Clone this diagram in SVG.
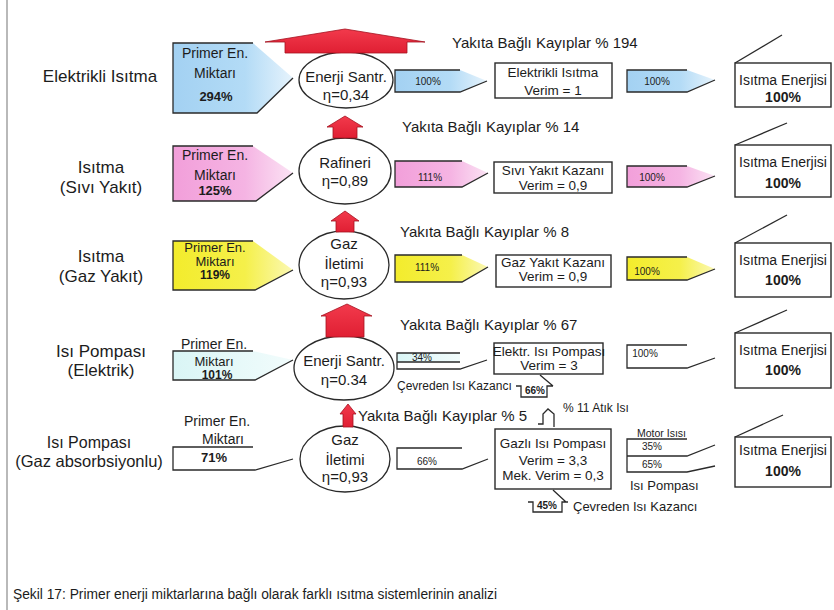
<svg xmlns="http://www.w3.org/2000/svg" width="834" height="610" viewBox="0 0 834 610">
<defs>
<linearGradient id="gBlue" x1="0" y1="0" x2="1" y2="0"><stop offset="0" stop-color="#a3d1f2"/><stop offset="0.6" stop-color="#b3dbf6"/><stop offset="1" stop-color="#e6f3fc"/></linearGradient>
<linearGradient id="gPink" x1="0" y1="0" x2="1" y2="0"><stop offset="0" stop-color="#f29fda"/><stop offset="0.6" stop-color="#f5b4e3"/><stop offset="1" stop-color="#fbe3f4"/></linearGradient>
<linearGradient id="gYel" x1="0" y1="0" x2="1" y2="0"><stop offset="0" stop-color="#f3ec2c"/><stop offset="0.6" stop-color="#f5f04a"/><stop offset="1" stop-color="#fbf8b4"/></linearGradient>
<linearGradient id="gCyan" x1="0" y1="0" x2="1" y2="0"><stop offset="0" stop-color="#d9f5f5"/><stop offset="1" stop-color="#f2fcfc"/></linearGradient>
<linearGradient id="gRed" x1="0" y1="0" x2="0" y2="1"><stop offset="0" stop-color="#f23a4c"/><stop offset="1" stop-color="#e01f33"/></linearGradient>
</defs>
<style>
text{font-family:"Liberation Sans",Arial,sans-serif;fill:#1c1c1c}
.lbl{font-size:17px;text-anchor:middle}
.loss{font-size:15px}
.pr{font-size:14px;text-anchor:middle}
.prb{font-size:13px;font-weight:bold;text-anchor:middle}
.el{font-size:15px;text-anchor:middle}
.bx{font-size:13.5px;text-anchor:middle}
.pc{font-size:10px;text-anchor:middle}
.pcb{font-size:10px;font-weight:bold;text-anchor:middle}
.ie{font-size:14px;text-anchor:middle}
.ieb{font-size:14px;font-weight:bold;text-anchor:middle}
.sm{font-size:12px}
.edge{fill:none;stroke:#2a2a2a;stroke-width:1.3}
.box{fill:#fff;stroke:#2a2a2a;stroke-width:1.4}
.ell{fill:#fff;stroke:#2a2a2a;stroke-width:1.3}
.red{fill:url(#gRed);stroke:#a5121f;stroke-width:0.8}
</style>
<rect width="834" height="610" fill="#fff"/>
<line x1="7" y1="0" x2="7" y2="610" stroke="#8a8a8a" stroke-width="1.2"/>

<!-- row labels -->
<g id="label-r1"><text class="lbl" x="100" y="82">Elektrikli Isıtma</text></g>
<g id="label-r2"><text class="lbl" x="101" y="173">Isıtma</text><text class="lbl" x="101" y="193">(Sıvı Yakıt)</text></g>
<g id="label-r3"><text class="lbl" x="101" y="262">Isıtma</text><text class="lbl" x="101" y="282">(Gaz Yakıt)</text></g>
<g id="label-r4"><text class="lbl" x="101" y="357">Isı Pompası</text><text class="lbl" x="101" y="376">(Elektrik)</text></g>
<g id="label-r5"><text class="lbl" x="89" y="448" style="font-size:16px">Isı Pompası</text><text class="lbl" x="89" y="467" style="font-size:16.5px">(Gaz absorbsiyonlu)</text></g>

<!-- primer energy shapes -->
<g id="primer-r1">
<path d="M173,43 H253 L293,78 L257,113 H173 Z" fill="url(#gBlue)"/>
<path class="edge" d="M253,43 H173 V113 H257 L293,78"/>
<text class="pr" x="215" y="58">Primer En.</text><text class="pr" x="215" y="78">Miktarı</text><text class="prb" x="216" y="101">294%</text>
</g>
<g id="primer-r2">
<path d="M173,146 H253 L293,173 L256,201 H173 Z" fill="url(#gPink)"/>
<path class="edge" d="M253,146 H173 V201 H256 L293,173"/>
<text class="pr" x="215" y="160">Primer En.</text><text class="pr" x="215" y="180">Miktarı</text><text class="prb" x="215" y="195">125%</text>
</g>
<g id="primer-r3">
<path d="M173,241 H253 L293,270 L255,290 H173 Z" fill="url(#gYel)"/>
<path class="edge" d="M253,241 H173 V290 H255 L293,270"/>
<text class="pr" x="215" y="252" style="font-size:13px">Primer En.</text><text class="pr" x="215" y="266" style="font-size:13px">Miktarı</text><text class="prb" x="215" y="279" style="font-size:12px">119%</text>
</g>
<g id="primer-r4">
<path d="M173,351 H253 L293,360 L255,380 H173 Z" fill="url(#gCyan)"/>
<path class="edge" d="M253,351 H173 V380 H255 L293,360"/>
<text class="pr" x="214" y="349">Primer En.</text><text class="pr" x="214" y="366" style="font-size:13px">Miktarı</text><text class="prb" x="217" y="379" style="font-size:12px">101%</text>
</g>
<g id="primer-r5">
<path d="M173,447 H253 L293,459 L255,470 H173 Z" fill="#fff"/>
<path class="edge" d="M253,447 H173 V470 H255 L293,459"/>
<text class="pr" x="217" y="426">Primer En.</text><text class="pr" x="223" y="444">Miktarı</text><text class="prb" x="214" y="462">71%</text>
</g>

<!-- conversion ellipses -->
<g id="plant-r1"><ellipse class="ell" cx="346" cy="80" rx="47" ry="28"/><text class="el" x="346" y="82">Enerji Santr.</text><text class="el" x="346" y="100">η=0,34</text></g>
<g id="plant-r2"><ellipse class="ell" cx="345" cy="171" rx="46" ry="33"/><text class="el" x="345" y="168">Rafineri</text><text class="el" x="345" y="186">η=0,89</text></g>
<g id="plant-r3"><ellipse class="ell" cx="344" cy="265" rx="45" ry="34"/><text class="el" x="344" y="249">Gaz</text><text class="el" x="344" y="269">İletimi</text><text class="el" x="344" y="287">η=0,93</text></g>
<g id="plant-r4"><ellipse class="ell" cx="344" cy="368" rx="50" ry="32"/><text class="el" x="344" y="366">Enerji Santr.</text><text class="el" x="344" y="385">η=0.34</text></g>
<g id="plant-r5"><ellipse class="ell" cx="345" cy="459" rx="45" ry="33"/><text class="el" x="345" y="445">Gaz</text><text class="el" x="345" y="465">İletimi</text><text class="el" x="345" y="482">η=0,93</text></g>

<!-- loss labels -->
<g id="loss-r1"><text class="loss" x="452" y="48">Yakıta Bağlı Kayıplar % 194</text></g>
<g id="loss-r2"><text class="loss" x="402" y="132">Yakıta Bağlı Kayıplar % 14</text></g>
<g id="loss-r3"><text class="loss" x="400" y="237">Yakıta Bağlı Kayıplar % 8</text></g>
<g id="loss-r4"><text class="loss" x="400" y="330">Yakıta Bağlı Kayıplar % 67</text></g>
<g id="loss-r5"><text class="loss" x="358" y="421">Yakıta Bağlı Kayıplar % 5</text></g>

<!-- secondary energy flows -->
<g id="flow1-r1"><path d="M395,70 H460 L487,81 L460,92 H395 Z" fill="url(#gBlue)"/><path class="edge" d="M460,70 H395 V92 H460 L487,81"/><text class="pc" x="428" y="85">100%</text></g>
<g id="flow1-r2"><path d="M395,161 H462 L488,173 L462,187 H395 Z" fill="url(#gPink)"/><path class="edge" d="M462,161 H395 V187 H462 L488,173"/><text class="pc" x="430" y="181">111%</text></g>
<g id="flow1-r3"><path d="M395,255 H462 L488,267 L462,282 H395 Z" fill="url(#gYel)"/><path class="edge" d="M462,255 H395 V282 H462 L488,267"/><text class="pc" x="427" y="271">111%</text></g>
<g id="flow1-r4"><rect x="397" y="353" width="63" height="9" fill="url(#gCyan)"/><path class="edge" d="M460,353 H397 V369 H460 L487,360 M397,362 H460"/><text class="pc" x="422" y="361">34%</text></g>
<g id="flow1-r5"><path d="M397,448 H462 L488,459 L462,469 H397 Z" fill="#fff"/><path class="edge" d="M462,448 H397 V469 H462 L488,459"/><text class="pc" x="427" y="465">66%</text></g>

<!-- heating devices -->
<g id="device-r1"><rect class="box" x="495" y="63" width="117" height="35"/><text class="bx" x="553" y="77">Elektrikli Isıtma</text><text class="bx" x="553" y="95">Verim = 1</text></g>
<g id="device-r2"><rect class="box" x="494" y="162" width="118" height="31"/><text class="bx" x="553" y="175">Sıvı Yakıt Kazanı</text><text class="bx" x="553" y="190">Verim = 0,9</text></g>
<g id="device-r3"><rect class="box" x="496" y="255" width="115" height="32"/><text class="bx" x="553" y="267">Gaz Yakıt Kazanı</text><text class="bx" x="553" y="281">Verim = 0,9</text></g>
<g id="device-r4"><rect class="box" x="494" y="343" width="109" height="31"/><text class="bx" x="549" y="356">Elektr. Isı Pompası</text><text class="bx" x="549" y="370">Verim = 3</text></g>
<g id="device-r5"><rect class="box" x="495" y="429" width="116" height="60"/><text class="bx" x="553" y="448">Gazlı Isı Pompası</text><text class="bx" x="553" y="465">Verim = 3,3</text><text class="bx" x="553" y="480">Mek. Verim = 0,3</text></g>

<!-- environmental heat / waste heat -->
<g id="env-r4"><path class="edge" d="M540,375 L553,386 M516,386 H521 V397 H547 V386 H553"/><text class="sm" x="397" y="390">Çevreden Isı Kazancı</text><text class="pcb" x="535" y="394">66%</text></g>
<g id="waste-r5"><path class="edge" d="M538,424 H543 V414 L548,409 L554,414 V427"/><text class="sm" x="563" y="412">% 11 Atık Isı</text></g>
<g id="env-r5"><path class="edge" d="M553,490 L566,502 M528,502 H533 V512 H562 V502 H568"/><text class="pcb" x="547" y="509">45%</text><text style="font-size:13px" x="573" y="511">Çevreden Isı Kazancı</text></g>

<!-- output flows -->
<g id="flow2-r1"><path d="M627,70 H687 L715,80 L687,92 H627 Z" fill="url(#gBlue)"/><path class="edge" d="M687,70 H627 V92 H687 L715,80"/><text class="pc" x="657" y="85">100%</text></g>
<g id="flow2-r2"><path d="M627,166 H687 L715,176 L687,187 H627 Z" fill="url(#gPink)"/><path class="edge" d="M687,166 H627 V187 H687 L715,176"/><text class="pc" x="652" y="181">100%</text></g>
<g id="flow2-r3"><path d="M627,257 H687 L715,269 L687,280 H627 Z" fill="url(#gYel)"/><path class="edge" d="M687,257 H627 V280 H687 L715,269"/><text class="pc" x="647" y="275">100%</text></g>
<g id="flow2-r4"><path d="M627,345 H687 L715,358 L687,368 H627 Z" fill="#fff"/><path class="edge" d="M687,345 H627 V368 H687 L715,358"/><text class="pc" x="645" y="357">100%</text></g>
<g id="flow2-r5"><path class="edge" d="M687,439 H627 V472 H687 L715,466 M627,456 H687 L715,445"/><text style="font-size:10.5px" x="637" y="437">Motor Isısı</text><text class="pc" x="652" y="450">35%</text><text class="pc" x="652" y="468">65%</text><text style="font-size:13px" x="630" y="490">Isı Pompası</text></g>

<!-- heating energy -->
<g id="heat-r1"><path class="edge" d="M735,63 L782,35"/><rect class="box" x="735" y="63" width="96" height="44"/><text class="ie" x="783" y="85">Isıtma Enerjisi</text><text class="ieb" x="783" y="102">100%</text></g>
<g id="heat-r2"><path class="edge" d="M735,145 L787,123"/><rect class="box" x="735" y="145" width="96" height="52"/><text class="ie" x="783" y="167">Isıtma Enerjisi</text><text class="ieb" x="783" y="188">100%</text></g>
<g id="heat-r3"><path class="edge" d="M735,243 L787,215"/><rect class="box" x="735" y="243" width="96" height="54"/><text class="ie" x="783" y="265">Isıtma Enerjisi</text><text class="ieb" x="783" y="285">100%</text></g>
<g id="heat-r4"><path class="edge" d="M735,333 L787,310"/><rect class="box" x="735" y="333" width="96" height="55"/><text class="ie" x="783" y="355">Isıtma Enerjisi</text><text class="ieb" x="783" y="375">100%</text></g>
<g id="heat-r5"><path class="edge" d="M735,437 L783,415"/><rect class="box" x="735" y="437" width="96" height="50"/><text class="ie" x="783" y="455">Isıtma Enerjisi</text><text class="ieb" x="783" y="476">100%</text></g>

<!-- connectors: loss arrows -->
<g id="connectors">
<path class="red" d="M265,42 L345,29 L425,42 H407 V53 H285 V42 Z"/>
<path class="red" d="M327,127 L345,116 L363,127 H357 V138 H333 V127 Z"/>
<path class="red" d="M331,221 L345,211 L359,221 H354 V232 H336 V221 Z"/>
<path class="red" d="M321,316 L347,304 L372,316 H364 V337 H326 V316 Z"/>
<path class="red" d="M340,414 L348,404 L356,414 H353 V427 H343 V414 Z"/>
</g>

<g id="caption"><text x="13" y="599" style="font-size:14px" textLength="484" lengthAdjust="spacingAndGlyphs">Şekil 17: Primer enerji miktarlarına bağlı olarak farklı ısıtma sistemlerinin analizi</text></g>
</svg>
